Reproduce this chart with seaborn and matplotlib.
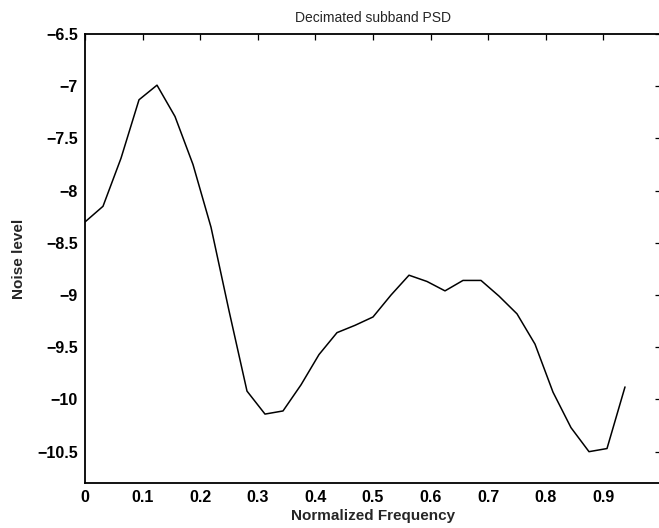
import matplotlib
matplotlib.use("Agg")
import matplotlib.pyplot as plt
import seaborn as sns
import pandas as pd

# normalized frequency bins (1/32 spacing) and PSD noise level
freq = [0.0, 0.03125, 0.0625, 0.09375, 0.125, 0.15625, 0.1875, 0.21875,
        0.25, 0.28125, 0.3125, 0.34375, 0.375, 0.40625, 0.4375, 0.46875,
        0.5, 0.53125, 0.5625, 0.59375, 0.625, 0.65625, 0.6875, 0.71875,
        0.75, 0.78125, 0.8125, 0.84375, 0.875, 0.90625, 0.9375]
noise = [-8.30, -8.15, -7.69, -7.13, -6.99, -7.29, -7.75, -8.35,
         -9.15, -9.92, -10.14, -10.11, -9.86, -9.57, -9.36, -9.29,
         -9.21, -9.00, -8.81, -8.87, -8.96, -8.86, -8.86, -9.01,
         -9.18, -9.47, -9.93, -10.27, -10.50, -10.47, -9.88]
xticks = [0, 0.1, 0.2, 0.3, 0.4, 0.5, 0.6, 0.7, 0.8, 0.9]
xticklabels = ['0', '0.1', '0.2', '0.3', '0.4', '0.5', '0.6', '0.7', '0.8', '0.9']
yticks = [-10.5, -10, -9.5, -9, -8.5, -8, -7.5, -7, -6.5]
yticklabels = ['\u221210.5', '\u221210', '\u22129.5', '\u22129', '\u22128.5',
               '\u22128', '\u22127.5', '\u22127', '\u22126.5']

df = pd.DataFrame({'freq': freq, 'noise': noise})

sns.set_style("white")
plt.rcParams['font.family'] = ['Liberation Sans', 'DejaVu Sans']

fig = plt.figure(figsize=(6.59, 5.28), dpi=100)
# axes right edge sits just past the image border, like the scan
ax = fig.add_axes([85/659, 1 - 483/528, 576/659, 449/528])

sns.lineplot(data=df, x='freq', y='noise', color='black', linewidth=1.1, ax=ax)

ax.set_xlim(0, 1)
ax.set_ylim(-10.8, -6.5)
ax.set_xticks(xticks)
ax.set_xticklabels(xticklabels, fontsize=11.5, fontweight='bold')
ax.set_yticks(yticks)
ax.set_yticklabels(yticklabels, fontsize=11.5, fontweight='bold')
ax.tick_params(direction='in', length=4, width=0.9, top=True, right=True,
               colors='black', pad=5)
for s in ax.spines.values():
    s.set_color('black')
    s.set_linewidth(1.3)

ax.set_xlabel('Normalized Frequency', fontsize=11, fontweight='bold', labelpad=3)
ax.set_ylabel('Noise level', fontsize=11, fontweight='bold', labelpad=8)
ax.set_title('Decimated subband PSD', fontsize=10, pad=9)

fig.savefig('out.png', dpi=100)
